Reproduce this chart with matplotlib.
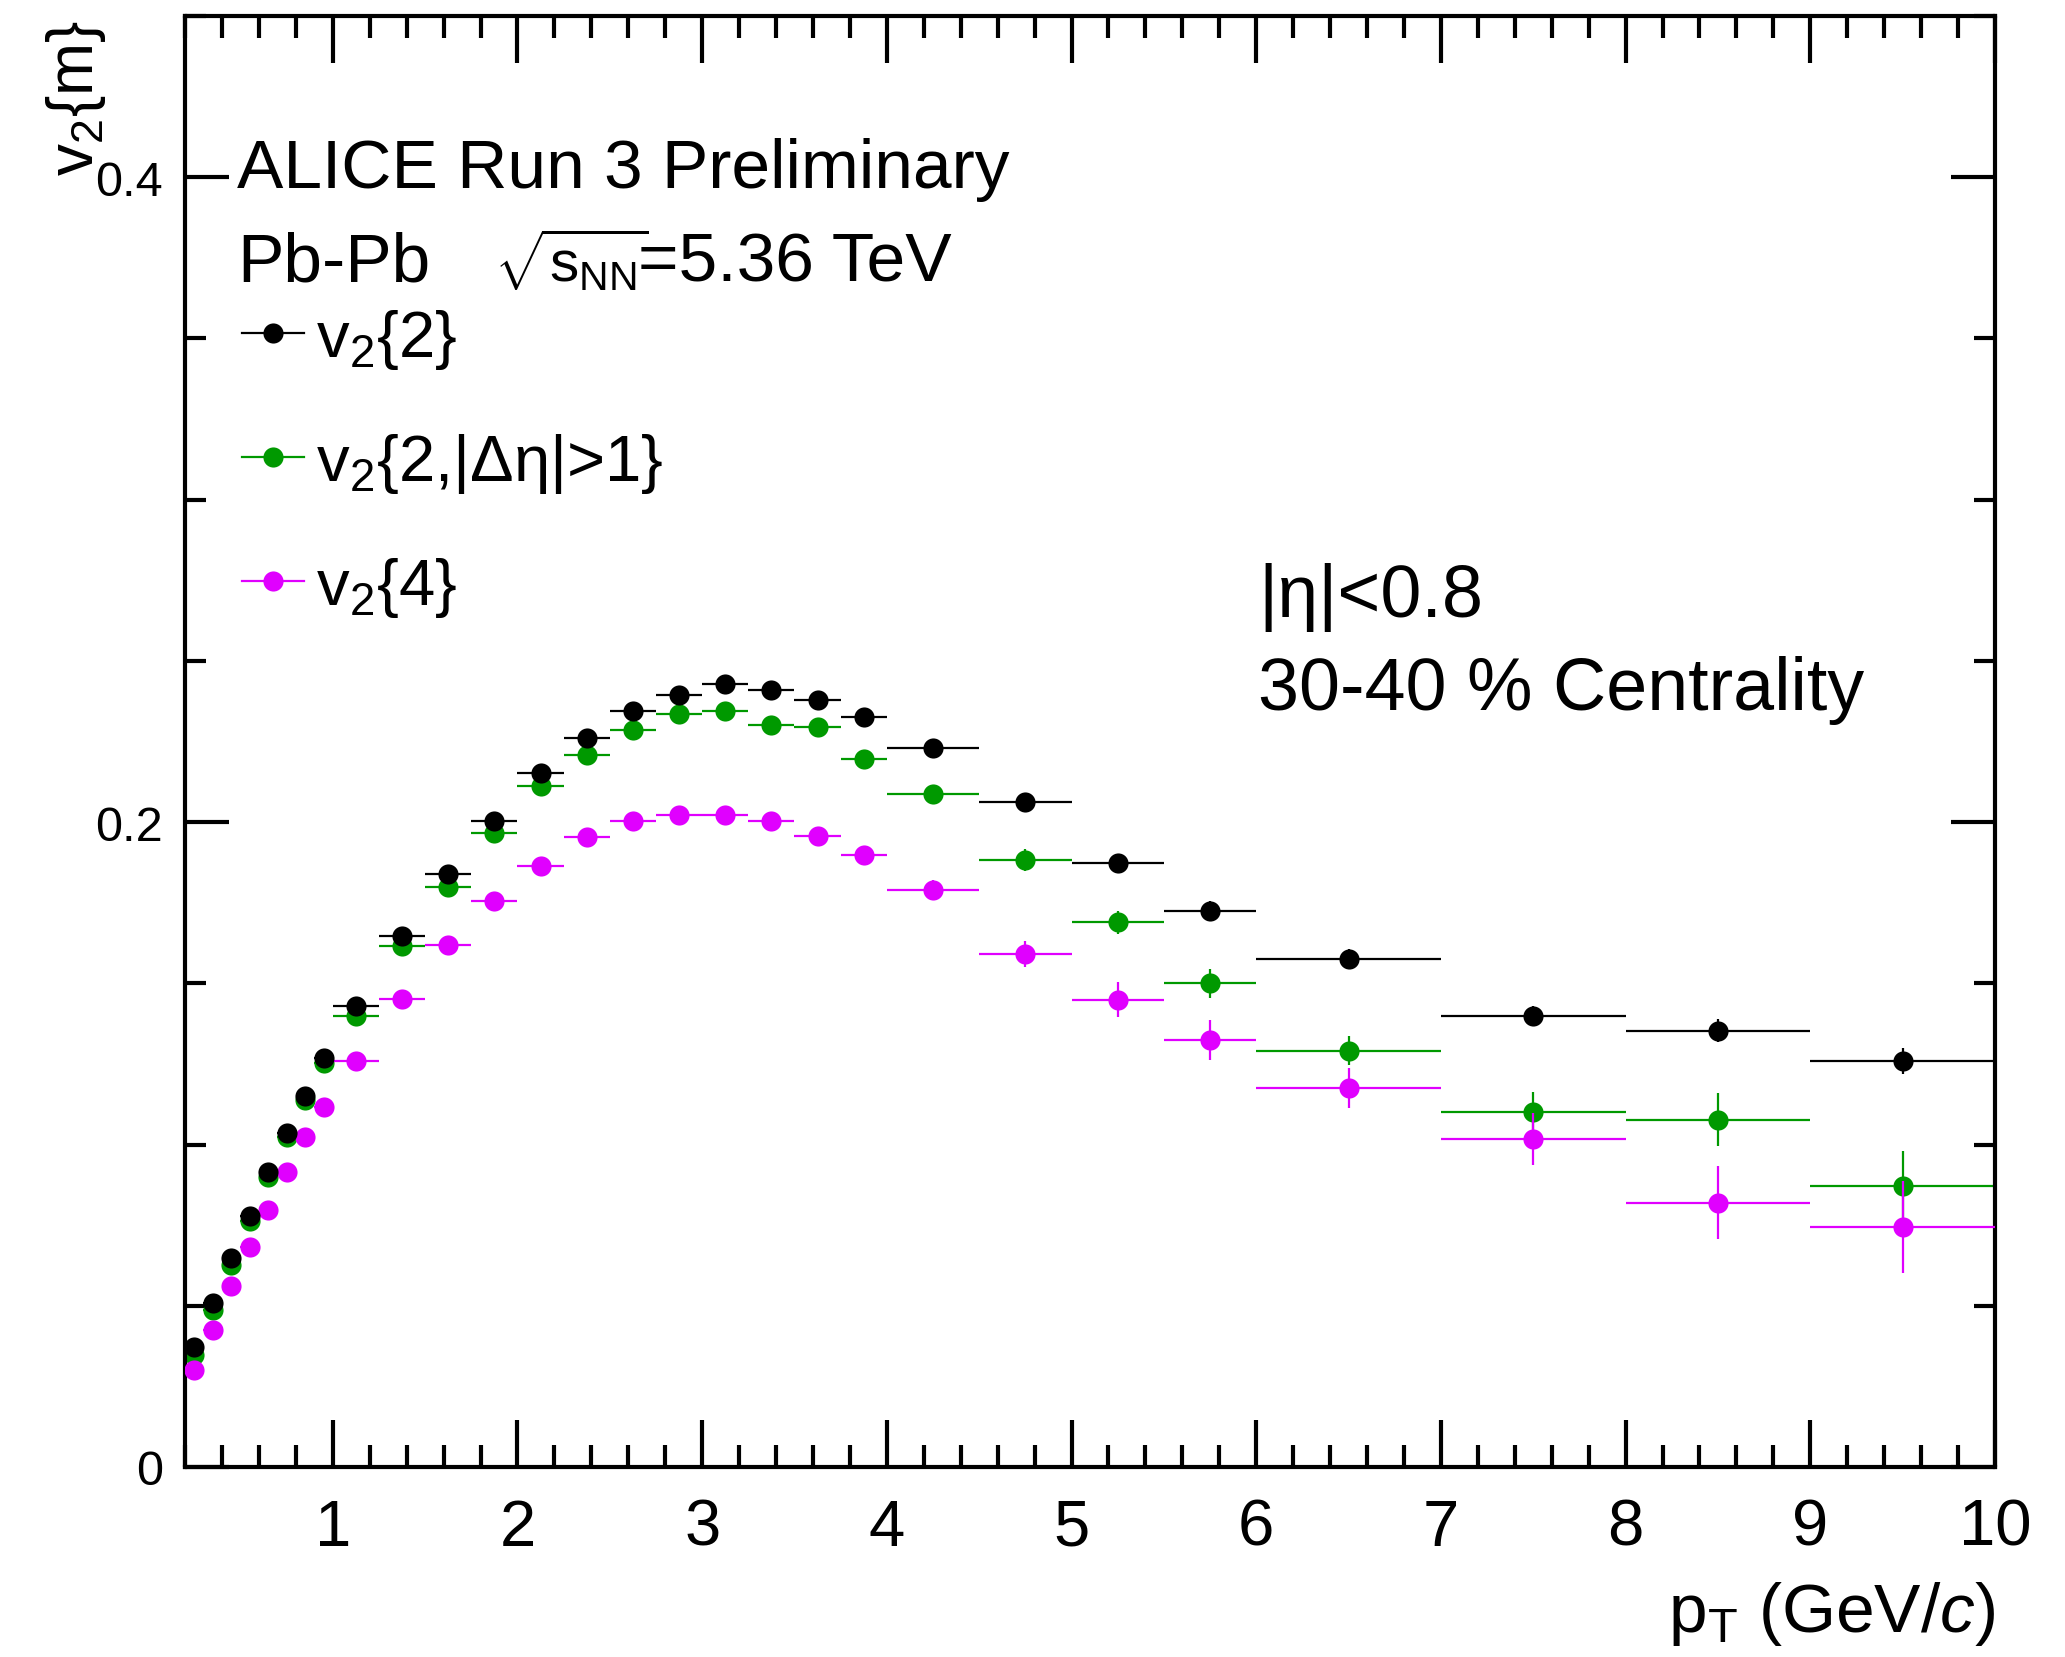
import numpy as np
import matplotlib
matplotlib.use("Agg")
import matplotlib.pyplot as plt
from matplotlib.ticker import MultipleLocator, FixedLocator
from matplotlib.lines import Line2D

plt.rcParams['font.family'] = 'Liberation Sans'
plt.rcParams['mathtext.fontset'] = 'custom'
plt.rcParams['mathtext.rm'] = 'Liberation Sans'
plt.rcParams['mathtext.it'] = 'Liberation Sans:italic'

# pT binning (GeV/c)
pt_edges = [0.2, 0.3, 0.4, 0.5, 0.6, 0.7, 0.8, 0.9, 1.0,
            1.25, 1.5, 1.75, 2.0, 2.25, 2.5, 2.75, 3.0, 3.25, 3.5, 3.75, 4.0,
            4.5, 5.0, 5.5, 6.0, 7.0, 8.0, 9.0, 10.0]

# v2{2}
v22 = [0.0371, 0.0509, 0.0647, 0.0779, 0.0914, 0.1035, 0.1151, 0.1267,
       0.1430, 0.1648, 0.1839, 0.2004, 0.2152, 0.2260, 0.2345, 0.2394,
       0.2428, 0.2410, 0.2378, 0.2327,
       0.2229, 0.2063, 0.1873, 0.1725,
       0.1575, 0.1400, 0.1353, 0.1258]
v22_err = [0.0015] * 20 + [0.002, 0.0025, 0.0025, 0.003, 0.003, 0.003, 0.0035, 0.004]

# v2{2, |deta|>1}
v22_gap = [0.0346, 0.0487, 0.0628, 0.0764, 0.0898, 0.1022, 0.1138, 0.1252,
           0.1400, 0.1617, 0.1800, 0.1965, 0.2111, 0.2209, 0.2286, 0.2335,
           0.2345, 0.2302, 0.2294, 0.2195,
           0.2087, 0.1882, 0.1689, 0.1501,
           0.1291, 0.1102, 0.1077, 0.0870]
v22_gap_err = [0.0015] * 20 + [0.0025, 0.0034, 0.0036, 0.0045, 0.0045, 0.0062, 0.0083, 0.011]

# v2{4}
v24 = [0.0302, 0.0425, 0.0560, 0.0681, 0.0798, 0.0914, 0.1022, 0.1118,
       0.1260, 0.1451, 0.1619, 0.1756, 0.1863, 0.1953, 0.2004, 0.2022,
       0.2022, 0.2004, 0.1956, 0.1898,
       0.1790, 0.1591, 0.1449, 0.1325,
       0.1175, 0.1018, 0.0820, 0.0745]
v24_err = [0.0015] * 20 + [0.003, 0.004, 0.0054, 0.0062, 0.0061, 0.0081, 0.0112, 0.0143]

edges = np.array(pt_edges)
pt = 0.5 * (edges[:-1] + edges[1:])
pt_half = 0.5 * (edges[1:] - edges[:-1])

c_black = 'black'
c_green = '#009900'
c_mag = '#e000ff'

W, H = 2065, 1658
fig = plt.figure(figsize=(W / 100, H / 100), dpi=100)
ax = fig.add_axes([185 / W, 1 - 1468 / H, (1995 - 185) / W, (1468 - 17) / H])

ms = 14.5
kw = dict(fmt='o', ms=ms, mew=0, elinewidth=1.6, capsize=0)
ax.errorbar(pt, v22_gap, xerr=pt_half, yerr=v22_gap_err, color=c_green, zorder=2, **kw)
ax.errorbar(pt, v24, xerr=pt_half, yerr=v24_err, color=c_mag, zorder=3, **kw)
ax.errorbar(pt, v22, xerr=pt_half, yerr=v22_err, color=c_black, zorder=4, **kw)

ax.set_xlim(0.2, 10)
ax.set_ylim(0, 0.45)

ax.xaxis.set_major_locator(FixedLocator([1, 2, 3, 4, 5, 6, 7, 8, 9, 10]))
ax.xaxis.set_minor_locator(MultipleLocator(0.2))
ax.yaxis.set_major_locator(FixedLocator([0, 0.2, 0.4]))
ax.yaxis.set_minor_locator(MultipleLocator(0.05))
ax.set_yticklabels(['0', '0.2', '0.4'])

for s in ax.spines.values():
    s.set_linewidth(3)
ax.tick_params(which='both', direction='in', top=True, right=True, width=3)
ax.tick_params(axis='x', which='major', length=34, labelsize=47, pad=22)
ax.tick_params(axis='x', which='minor', length=16)
ax.tick_params(axis='y', which='major', length=32, labelsize=35, pad=16)
ax.tick_params(axis='y', which='minor', length=15)

# axis titles
fig.text(1995 / W, 1 - 1632 / H, r'p$_{\mathrm{T}}$ (GeV/$c$)', ha='right', va='baseline', fontsize=50)
fig.text(76 / W, 1 - 20 / H, r'v$_{2}${m}', rotation=90, ha='center', va='top', fontsize=46)

# labels
fig.text(237 / W, 1 - 188 / H, 'ALICE Run 3 Preliminary', ha='left', va='baseline', fontsize=50)
fig.text(237 / W, 1 - 282 / H, 'Pb-Pb', ha='left', va='baseline', fontsize=50)
fig.text(494 / W, 1 - 282 / H, r'$\sqrt{\mathrm{s}_{\mathrm{NN}}}$', ha='left', va='baseline', fontsize=42)
fig.text(638 / W, 1 - 282 / H, '=5.36 TeV', ha='left', va='baseline', fontsize=50)
fig.text(1258 / W, 1 - 617 / H, '|η|<0.8', ha='left', va='baseline', fontsize=53)
fig.text(1258 / W, 1 - 710 / H, '30-40 % Centrality', ha='left', va='baseline', fontsize=53)

handles = [Line2D([], [], color=c, marker='o', ms=ms, mew=0, lw=1.6)
           for c in (c_black, c_green, c_mag)]
labels = [r'v$_{2}${2}', r'v$_{2}${2,|Δη|>1}', r'v$_{2}${4}']
ax.legend(handles, labels, loc='upper left', bbox_to_anchor=(242 / W, 1 - 308 / H),
          bbox_transform=fig.transFigure, frameon=False, fontsize=47, numpoints=1,
          handlelength=0.95, handletextpad=0.18, labelspacing=0.92, borderpad=0,
          borderaxespad=0)

fig.savefig('out.png', dpi=100)
